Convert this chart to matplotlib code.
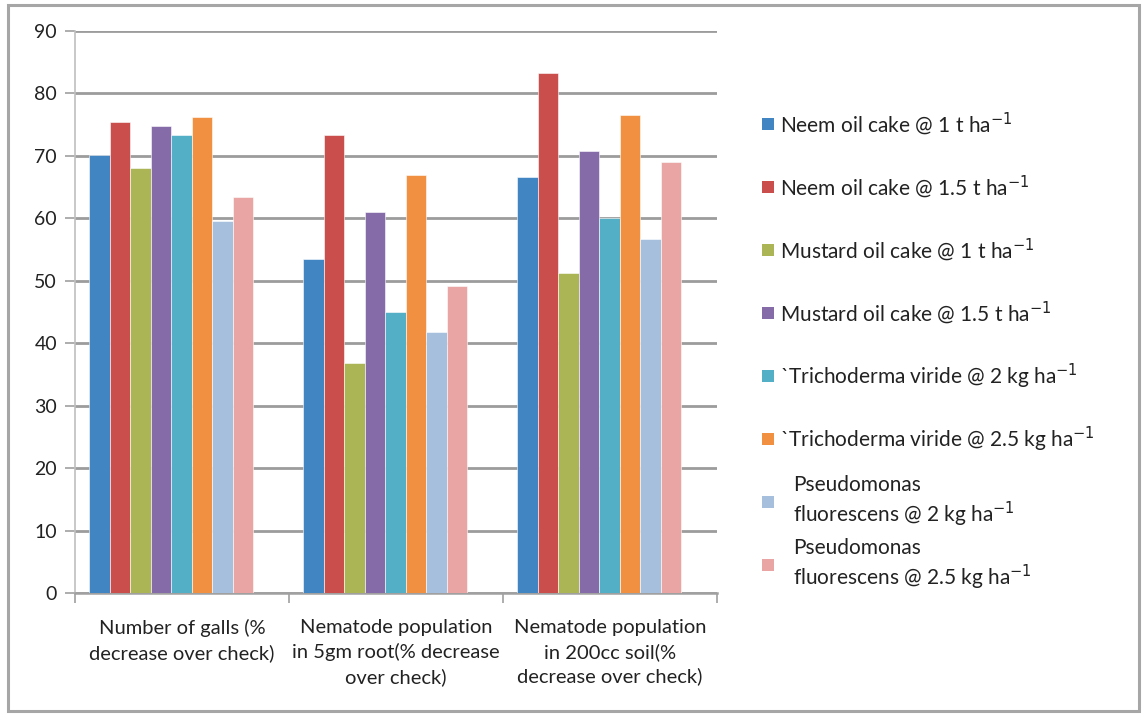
import numpy as np
import matplotlib
matplotlib.use('Agg')
import matplotlib.pyplot as plt
from matplotlib.patches import Rectangle

plt.rcParams['font.family'] = ['Lato', 'DejaVu Sans']

categories = ['Number of galls (%\ndecrease over check)',
              'Nematode population\nin 5gm root(% decrease\nover check)',
              'Nematode population\nin 200cc soil(%\ndecrease over check)']

series_names = ['Neem oil cake @ 1 t ha$^{-1}$',
                'Neem oil cake @ 1.5 t ha$^{-1}$',
                'Mustard oil cake @ 1 t ha$^{-1}$',
                'Mustard oil cake @ 1.5 t ha$^{-1}$',
                '`Trichoderma viride @ 2 kg ha$^{-1}$',
                '`Trichoderma viride @ 2.5 kg ha$^{-1}$',
                'Pseudomonas\nfluorescens @ 2 kg ha$^{-1}$',
                'Pseudomonas\nfluorescens @ 2.5 kg ha$^{-1}$']

neem_1 = [70.1, 53.5, 66.6]
neem_15 = [75.4, 73.3, 83.3]
mustard_1 = [68.1, 36.8, 51.3]
mustard_15 = [74.8, 61.0, 70.8]
tricho_2 = [73.3, 45.0, 60.1]
tricho_25 = [76.2, 67.0, 76.5]
pseudo_2 = [59.6, 41.8, 56.7]
pseudo_25 = [63.4, 49.2, 69.1]

values = [neem_1, neem_15, mustard_1, mustard_15, tricho_2, tricho_25, pseudo_2, pseudo_25]
colors = ['#4185C3', '#C94E4C', '#ABB556', '#856BA8', '#52AFC6', '#F09040', '#A5BFDD', '#E8A5A4']

W, H = 1142, 716
fig = plt.figure(figsize=(W/100, H/100), dpi=100)
ax = fig.add_axes([75/W, 1 - 593/H, (717-75)/W, (593-31)/H])

# outer frame
fig.patches.append(Rectangle((8/W, 5/H), 1131/W, 706/H, transform=fig.transFigure,
                             fill=False, edgecolor='#a6a6a6', lw=2.2))

x = np.arange(len(categories))
n = len(values)
group_w = 0.765
shift = -0.05
bw = group_w / n
for i, (vals, c) in enumerate(zip(values, colors)):
    ax.bar(x + shift - group_w/2 + bw*(i + 0.5), vals, width=bw, color=c,
           edgecolor='white', linewidth=0.4, zorder=3)

ax.set_ylim(0, 90)
ax.set_xlim(-0.5, 2.5)
ax.set_yticks(range(0, 91, 10))
ax.yaxis.grid(True, color='#9c9c9c', lw=2.0, zorder=0)
ax.set_xticks(x)
ax.set_xticklabels(categories, fontsize=14.5, color='#222222', linespacing=1.45)
ax.set_xticks([-0.5, 0.5, 1.5, 2.5], minor=True)
ax.tick_params(axis='x', which='major', length=0, pad=19)
ax.tick_params(axis='x', which='minor', length=7, color='#a0a0a0', width=1.2)
ax.tick_params(axis='y', length=7, color='#a0a0a0', width=1.2, labelsize=14, pad=6,
               labelcolor='#222222')
for s in ['top', 'right']:
    ax.spines[s].set_visible(False)
ax.spines['left'].set_color('#bfbfbf')
ax.spines['left'].set_linewidth(1.2)
ax.spines['bottom'].set_color('#a0a0a0')
ax.spines['bottom'].set_linewidth(1.8)

# legend drawn entry by entry so the row pitch stays even
for i, (name, c) in enumerate(zip(series_names, colors)):
    yc = 124 + 63 * i
    fig.patches.append(Rectangle((762/W, 1 - (yc + 6)/H), 12/W, 12/H,
                                 transform=fig.transFigure, facecolor=c, edgecolor='none'))
    tx = 793 if '\n' in name else 780
    fig.text(tx/W, 1 - yc/H, name, fontsize=15, color='#222222', va='center', ha='left',
             linespacing=1.2)

plt.savefig('out.png', dpi=100)
